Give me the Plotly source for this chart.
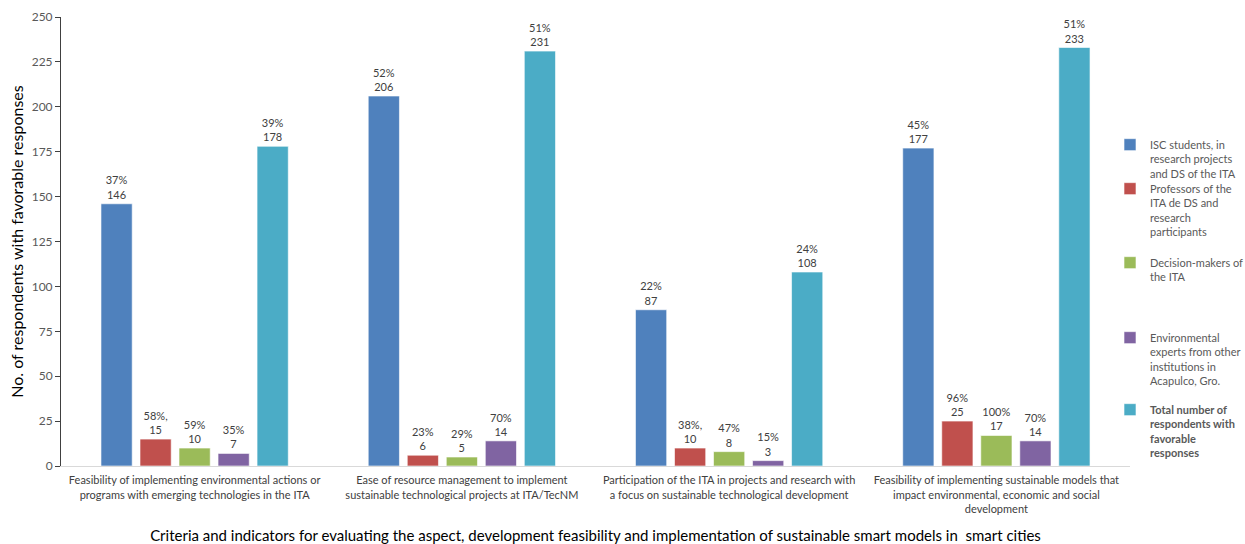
import plotly.graph_objects as go

categories = [
    "Feasibility of implementing environmental actions or<br>programs with emerging technologies in the ITA",
    "Ease of resource management to implement<br>sustainable technological projects at ITA/TecNM",
    "Participation of the ITA in projects and research with<br>a focus on sustainable technological development",
    "Feasibility of implementing sustainable models that<br>impact environmental, economic and social<br>development",
]

series_names = [
    "ISC students, in<br>research projects<br>and DS of the ITA",
    "Professors of the<br>ITA de DS and<br>research<br>participants",
    "Decision-makers of<br>the ITA",
    "Environmental<br>experts from other<br>institutions in<br>Acapulco, Gro.",
    "<b>Total number of<br>respondents with<br>favorable<br>responses</b>",
]

isc_values = [146, 206, 87, 177]
isc_pct = ["37%", "52%", "22%", "45%"]
prof_values = [15, 6, 10, 25]
prof_pct = ["58%,", "23%", "38%,", "96%"]
dec_values = [10, 5, 8, 17]
dec_pct = ["59%", "29%", "47%", "100%"]
env_values = [7, 14, 3, 14]
env_pct = ["35%", "70%", "15%", "70%"]
total_values = [178, 231, 108, 233]
total_pct = ["39%", "51%", "24%", "51%"]

colors = ["#4F81BD", "#C0504D", "#9BBB59", "#8064A2", "#4BACC6"]

all_values = [isc_values, prof_values, dec_values, env_values, total_values]
all_pct = [isc_pct, prof_pct, dec_pct, env_pct, total_pct]

FONT = "Lato"
W, H = 1245, 544
legend_tops = [131, 175, 249, 324, 396]

fig = go.Figure()
for i, (name, vals, pct, col) in enumerate(zip(series_names, all_values, all_pct, colors)):
    labels = [f"{p}<br>{v}" for p, v in zip(pct, vals)]
    fig.add_trace(go.Bar(
        x=categories, y=vals, name=name,
        marker=dict(color=col, line=dict(color="rgba(255,255,255,0.6)", width=1)),
        text=labels, textposition="outside", cliponaxis=False,
        textfont=dict(family=FONT, size=11, color="#404040"),
        legend="legend" if i == 0 else f"legend{i+1}",
        hoverinfo="skip",
    ))

layout_legends = {}
for i, top in enumerate(legend_tops):
    key = "legend" if i == 0 else f"legend{i+1}"
    layout_legends[key] = dict(
        xref="container", yref="container",
        x=(1150 - 40) / W, y=1 - top / H,
        xanchor="left", yanchor="top",
        valign="top",
        font=dict(family=FONT, size=11, color="#595959"),
        bgcolor="rgba(0,0,0,0)", borderwidth=0,
        itemwidth=30, tracegroupgap=0,
    )

fig.update_layout(
    width=W, height=H,
    margin=dict(l=61, r=115, t=17, b=78, autoexpand=False),
    paper_bgcolor="white", plot_bgcolor="white",
    barmode="group", bargap=0.27, bargroupgap=0.2,
    font=dict(family=FONT, color="#595959"),
    showlegend=True,
    **layout_legends,
)

fig.update_xaxes(
    showline=True, linecolor="#D9D9D9", linewidth=1,
    ticks="", showgrid=False, ticklabelstandoff=4,
    tickfont=dict(family=FONT, size=11, color="#404040"),
    title=dict(text="Criteria and indicators for evaluating the aspect, development feasibility and implementation of sustainable smart models in  smart cities",
               font=dict(family=FONT, size=15, color="#000000"), standoff=16),
)
fig.update_yaxes(
    range=[0, 250], dtick=25, tick0=0,
    showline=True, linecolor="#404040", linewidth=1,
    ticks="outside", ticklen=5, tickcolor="#404040",
    showgrid=False, zeroline=False,
    tickfont=dict(family=FONT, size=12, color="#595959"),
    title=dict(text="No. of respondents with favorable responses",
               font=dict(family=FONT, size=16, color="#000000"), standoff=4),
)

fig.write_html("out.html")
